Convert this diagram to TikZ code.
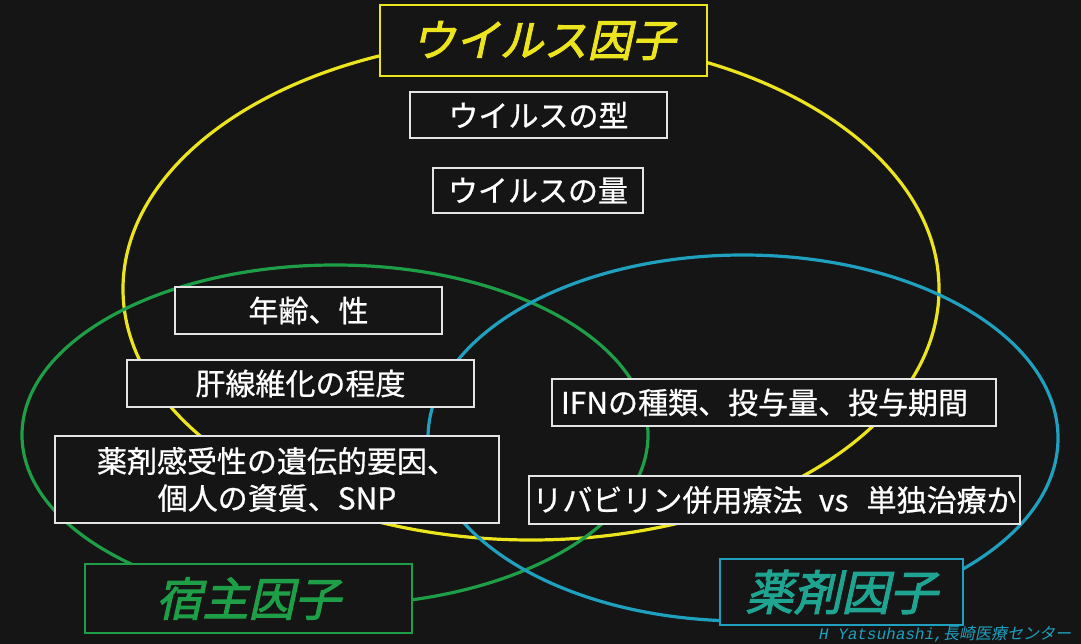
\documentclass[tikz,border=0pt]{standalone}
\usepackage{fontspec}
\setmainfont{Noto Sans CJK JP}
\newfontfamily\jp[FakeBold=0.7]{Noto Sans CJK JP}
\newfontfamily\jpit[FakeSlant=0.22,FakeBold=2.2]{Noto Sans CJK JP}
\newfontfamily\creditlat[FakeSlant=0.2]{Liberation Mono}
\newfontfamily\creditjp[FakeSlant=0.2]{Noto Sans CJK JP}
\definecolor{bg}{HTML}{151515}
\definecolor{vyel}{HTML}{ECE41C}
\definecolor{hgrn}{HTML}{1E9E46}
\definecolor{dblu}{HTML}{1EA0BE}
\definecolor{dtxt}{HTML}{1FA492}
\definecolor{boxw}{HTML}{E4E4E4}
\tikzset{
  ring/.style={line width=3.2pt},
  itembox/.style={draw=boxw, line width=1.5pt, fill=bg, text=white, inner sep=0pt,
    font=\jp\fontsize{30}{37}\selectfont, align=center},
  titlebox/.style={line width=1.8pt, fill=bg, inner sep=0pt,
    font=\jpit\fontsize{44}{50}\selectfont},
}
\begin{document}
\begin{tikzpicture}[x=1pt,y=-1pt]
\fill[bg] (0,0) rectangle (1081,644);
\useasboundingbox (0,0) rectangle (1081,644);
% ellipses
\draw[ring, vyel] (531,289) ellipse [x radius=408pt, y radius=251pt];
\draw[ring, hgrn] (335,435) ellipse [x radius=313pt, y radius=170pt];
\draw[ring, dblu] (743,438) ellipse [x radius=315pt, y radius=183pt];
% item boxes
\node[itembox, minimum width=257pt, minimum height=46pt] (type) at (538.5,115) {ウイルスの型};
\node[itembox, minimum width=210pt, minimum height=45pt] (amount) at (538,190.5) {ウイルスの量};
\node[itembox, minimum width=267pt, minimum height=47pt] (age) at (308.5,310.5) {年齢、性};
\node[itembox, minimum width=347pt, minimum height=47pt] (fib) at (300.5,383.5) {肝線維化の程度};
\node[itembox, minimum width=444pt, minimum height=87pt] (gen) at (277,479.5) {薬剤感受性の遺伝的要因、\\個人の資質、SNP};
\node[itembox, text width=426pt, align=left, inner xsep=9pt, minimum height=47pt] (ifn) at (774,402.5) {IFNの種類、投与量、投与期間};
\node[itembox, minimum width=491pt, minimum height=48pt] (rib) at (774.5,500) {リバビリン併用療法\hspace{0.55em}vs\hspace{0.6em}単独治療か};
% title boxes
\node[titlebox, draw=vyel, text=vyel, minimum width=327pt, minimum height=71pt] (virus) at (543.5,40.5) {ウイルス因子};
\node[titlebox, draw=hgrn, text=hgrn, minimum width=327pt, minimum height=69pt] (host) at (248.5,598.5) {\fontsize{46}{50}\selectfont 宿主因子};
\node[titlebox, draw=dblu, text=dtxt, minimum width=243pt, minimum height=66pt] (drug) at (841.5,592) {\fontsize{48}{52}\selectfont 薬剤因子};
% credit
\node[anchor=west, inner sep=0pt, text=dblu, font=\fontsize{16}{17}\selectfont] (credit) at (818,634)
  {{\creditlat H Yatsuhashi,}{\creditjp 長崎医療センター}};
\end{tikzpicture}
\end{document}
